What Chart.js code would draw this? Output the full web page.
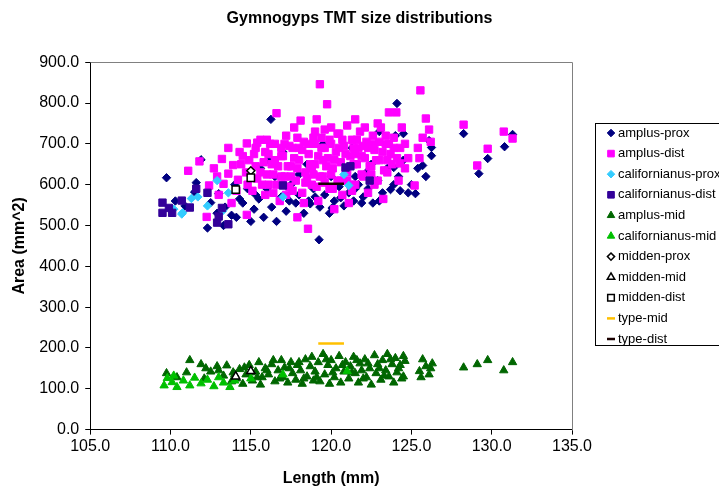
<!DOCTYPE html>
<html>
<head>
<meta charset="utf-8">
<script src="https://cdn.jsdelivr.net/npm/chart.js@4"></script>
<style>
  html, body { margin: 0; padding: 0; background: #fff; overflow: hidden; }
  #chart { display: block; }
</style>
</head>
<body>
<canvas id="chart" width="719" height="488"></canvas>
<script>
// axis ticks
const xTicks = [105, 110, 115, 120, 125, 130, 135];
const yTicks = [0, 100, 200, 300, 400, 500, 600, 700, 800, 900];

// [length mm, area mm^2]
const amplusProx = [
  [109.75,617],[110.3,560],[110.9,548],[111.5,582],[111.6,605],[111.9,661],[112.3,494],[112.5,556],
  [112.9,530],[113.0,578],[113.3,500],[113.4,545],[113.8,525],[114.1,520],[114.3,565],[114.5,555],
  [114.8,590],[115.0,510],[115.2,540],[115.5,565],[115.6,640],[115.8,520],[116.0,590],[116.1,660],
  [116.25,760],[116.3,545],[116.6,510],[116.9,570],[117.0,680],[117.2,535],[117.5,600],[117.8,555],
  [118.0,575],[118.0,625],[118.3,530],[118.5,650],[118.6,560],[118.7,553],[118.9,590],[119.25,465],
  [119.3,545],[119.5,700],[119.6,575],[119.9,530],[120.0,620],[120.06,543],[120.2,560],[120.5,595],
  [120.6,568],[120.8,548],[121.1,580],[121.3,690],[121.4,560],[121.5,590],[121.5,620],[121.7,600],
  [122.0,570],[122.3,590],[122.5,650],[122.6,555],[122.9,610],[123.0,730],[123.2,580],[123.5,640],
  [123.7,588],[123.9,600],[123.9,642],[124.0,720],[124.1,799],[124.2,620],[124.3,585],[124.5,725],
  [124.5,660],[124.8,580],[125.0,600],[125.25,578],[125.4,640],[125.7,647],[125.9,620],[126.1,708],
  [126.25,671],[126.25,691],[128.25,725],[129.2,627],[129.75,664],[130.8,693],[131.3,723],
  [117.4,560],[119.0,570],[121.9,555],[123.0,560],[115.3,575],[114.0,600],[116.5,620],[122.2,630]
];
const amplusDist = [
  [111.1,634],[111.8,657],[112.25,521],[112.4,598],[112.7,640],[113.0,575],
  [113.3,602],[113.6,627],[113.2,663],[113.8,555],[113.9,648],
  [114.2,612],[114.3,680],[114.4,650],[114.1,585],
  [114.75,701],[114.75,526],[114.7,630],[114.9,660],[114.8,600],
  [115.4,703],[115.1,585],[115.3,645],[115.2,675],[115.4,615],
  [115.6,630],[115.9,680],[115.7,600],[115.8,655],[115.9,575],[115.6,710],
  [116.1,600],[116.3,650],[116.2,700],[116.4,625],[116.1,675],[116.4,580],
  [116.6,775],[116.5,700],[116.8,560],[116.9,620],[116.7,645],[116.9,670],[116.6,600],
  [117.0,670],[117.2,720],[117.4,595],[117.3,645],[117.1,620],[117.4,695],[117.2,575],
  [117.5,645],[117.6,690],[117.8,610],[117.9,520],[117.7,665],[117.9,715],[117.6,585],
  [118.0,660],[118.1,757],[118.2,580],[118.3,705],[118.4,630],[118.2,685],[118.4,605],
  [118.56,492],[118.6,675],[118.8,600],[118.9,715],[118.7,650],[118.9,625],[118.6,700],
  [119.0,650],[119.1,760],[119.2,560],[119.3,846],[119.4,690],[119.3,620],[119.1,595],[119.4,715],[119.2,670],
  [119.5,620],[119.6,735],[119.75,797],[119.8,665],[119.9,590],[119.7,645],[119.6,690],[119.9,710],
  [120.0,700],[120.1,640],[120.2,540],[120.3,680],[120.4,610],[120.2,660],[120.4,725],[120.1,590],
  [120.5,725],[120.6,655],[120.7,575],[120.8,695],[120.9,635],[120.6,610],[120.9,675],
  [121.0,630],[121.0,745],[121.1,555],[121.2,670],[121.3,710],[121.4,650],[121.2,600],[121.4,690],
  [121.5,600],[121.6,650],[121.7,690],[121.8,730],[121.9,625],[121.6,710],[121.9,670],
  [122.0,620],[122.1,665],[122.2,705],[122.3,580],[122.4,645],[122.3,690],[122.1,740],
  [122.5,645],[122.6,720],[122.7,685],[122.9,610],[122.8,660],[122.6,700],
  [123.0,660],[123.1,740],[123.25,565],[123.4,700],[123.3,635],[123.2,680],[123.4,720],
  [123.6,777],[123.5,630],[123.7,675],[123.9,715],[123.8,650],[123.6,700],
  [124.06,777],[124.3,652],[124.3,690],[124.4,740],[124.2,610],[124.1,665],
  [124.6,700],[124.8,665],[125.2,598],[125.4,690],[125.56,831],[125.7,715],[125.9,762],
  [126.1,735],[126.2,705],[125.5,665],[128.25,747],[129.1,647],[129.75,688],[130.75,730],[131.3,713],
  [116.0,625],[116.5,660],[117.0,600],[117.5,620],[118.0,690],[118.5,615],[119.0,700],[119.5,660],
  [120.0,625],[120.5,690],[121.0,610],[121.5,675],[122.0,695],[122.5,625],[123.0,705],[123.5,660],
  [118.3,555],[119.6,605],[121.3,585],[122.7,600],[117.1,700],[116.0,710],[115.3,690],[120.0,740],
  [122.9,750],[119.0,730],[117.7,740],[121.5,760],[123.9,690],[124.6,640],[114.5,670],[113.6,690],
  [112.9,620],[118.8,640],[120.7,710],[117.9,640],[116.9,690]
];
const californianusProx = [
  [110.2,540],[110.7,528],[110.75,531],[111.3,566],[111.7,570],[112.3,548],[112.9,610],
  [113.25,536],[113.6,580],[117.0,570],[120.8,625],[121.1,598]
];
const californianusDist = [
  [109.5,556],[109.5,531],[109.9,543],[110.1,531],[110.7,561],[111.2,544],[111.6,590],[112.3,580],
  [112.9,507],[113.0,522],[113.2,543],[113.6,503],[117.0,598],[120.9,642],[121.2,645],[122.4,610]
];
const amplusMid = [
  [109.75,138],[110.4,128],[111.0,140],[111.2,170],[111.9,160],[112.1,125],[112.5,142],[112.9,155],
  [113.3,132],[113.5,157],[113.8,118],[113.9,140],
  [114.1,125],[114.3,148],[114.5,112],[114.7,135],[114.9,158],
  [115.1,120],[115.3,142],[115.5,165],[115.7,128],[115.9,150],[115.6,110],
  [116.1,135],[116.3,160],[116.5,118],[116.7,145],[116.9,170],[116.8,125],
  [117.1,152],[117.3,115],[117.5,165],[117.6,138],[117.8,122],[117.9,158],
  [118.1,145],[118.2,112],[118.4,172],[118.5,130],[118.7,155],[118.9,120],[118.8,178],
  [119.0,142],[119.2,165],[119.3,118],[119.5,185],[119.6,135],[119.8,158],[119.9,112],
  [120.0,170],[120.2,128],[120.3,150],[120.5,180],[120.6,115],[120.8,142],[120.9,165],
  [121.1,125],[121.2,155],[121.4,178],[121.5,138],[121.7,115],[121.8,162],[121.9,145],
  [122.1,172],[122.2,128],[122.4,150],[122.5,110],[122.7,182],[122.8,138],[122.9,160],
  [123.1,122],[123.2,170],[123.4,145],[123.5,185],[123.6,130],[123.8,160],[123.9,115],
  [124.0,175],[124.1,140],[124.3,158],[124.4,125],[124.6,168],[124.5,180],
  [125.5,143],[125.6,128],[125.7,172],[125.9,155],[126.1,135],[126.3,162],[126.2,150],
  [128.25,152],[129.1,160],[129.75,170],[130.75,145],[131.3,165],
  [114.0,135],[114.6,152],[115.0,140],[115.4,128],[116.0,145],[116.4,170],[117.0,128],[117.4,150],
  [118.0,165],[118.3,125],[119.1,128],[119.7,172],[120.1,140],[120.7,158],[121.3,140],[121.6,170],
  [122.0,125],[122.3,162],[123.0,150],[123.3,132],[123.7,172],[124.2,150],[124.5,130],[113.0,145],
  [112.2,150]
];
const californianusMid = [
  [109.6,108],[109.8,126],[110.1,116],[110.2,132],[110.4,104],[110.8,120],[111.2,108],[111.5,127],
  [111.9,113],[112.3,122],[112.7,106],[113.0,128],[113.3,115],[113.7,104],[114.0,120],[115.0,125],
  [117.0,135],[121.0,143]
];
const middenProx = [[115.0,634]];
const middenMid = [[114.06,130],[115.0,143]];
const middenDist = [[114.06,588],[115.0,617]];
const typeMid = [[119.2,211],[120.8,211]];
const typeDist = [[119.2,602],[120.8,602]];

const FONT = 'Arial, "Liberation Sans", sans-serif';
Chart.defaults.font.family = FONT;
Chart.defaults.color = '#000';

function pts(arr) {
  return arr.map(p => ({ x: p[0], y: p[1] }));
}

function marker(label, data, style, fill, stroke, radius, bw) {
  return {
    label: label, data: pts(data),
    pointStyle: style, pointRadius: radius, pointHoverRadius: radius,
    pointBackgroundColor: fill, pointBorderColor: stroke, pointBorderWidth: bw,
    backgroundColor: fill, borderColor: stroke
  };
}

function dash(label, data, color) {
  return {
    label: label, data: pts(data), showLine: true,
    borderColor: color, backgroundColor: color, borderWidth: 2.5,
    pointRadius: 0, pointHoverRadius: 0
  };
}

const datasets = [
  marker('amplus-prox', amplusProx, 'rectRot', '#000080', '#000080', 4.2, 1),
  marker('amplus-dist', amplusDist, 'rect', '#FF00FF', '#FF00FF', 5.2, 1),
  marker('californianus-prox', californianusProx, 'rectRot', '#33CCFF', '#33CCFF', 4.2, 1),
  marker('californianus-dist', californianusDist, 'rect', '#330099', '#330099', 5.2, 1),
  marker('amplus-mid', amplusMid, 'triangle', '#006600', '#006600', 4.8, 1),
  marker('californianus-mid', californianusMid, 'triangle', '#00C000', '#00C000', 4.8, 1),
  marker('midden-prox', middenProx, 'rectRot', '#FFFFFF', '#000000', 4.0, 1.5),
  marker('midden-mid', middenMid, 'triangle', '#FFFFFF', '#000000', 4.8, 1.5),
  marker('midden-dist', middenDist, 'rect', '#FFFFFF', '#000000', 5.2, 1.5),
  dash('type-mid', typeMid, '#FFC000'),
  dash('type-dist', typeDist, '#1a0000')
];
// later series sit on top, like the original
datasets.forEach((ds, i) => { ds.order = datasets.length - i; });

// gray frame on top and right of the plot area
const plotFrame = {
  id: 'plotFrame',
  beforeDatasetsDraw(chart) {
    const a = chart.chartArea, ctx = chart.ctx;
    ctx.save();
    ctx.strokeStyle = '#808080';
    ctx.lineWidth = 1;
    ctx.beginPath();
    ctx.moveTo(Math.round(a.left) + 0.5, Math.round(a.top) + 0.5);
    ctx.lineTo(Math.round(a.right) + 0.5, Math.round(a.top) + 0.5);
    ctx.lineTo(Math.round(a.right) + 0.5, Math.round(a.bottom) + 0.5);
    ctx.stroke();
    ctx.restore();
  }
};

// boxed legend at the right, like the spreadsheet one
const legendBox = {
  id: 'legendBox',
  afterDraw(chart) {
    const ctx = chart.ctx;
    ctx.save();
    ctx.strokeStyle = '#000';
    ctx.lineWidth = 1;
    ctx.strokeRect(595.5, 123.5, 160, 222);
    ctx.font = '13px ' + FONT;
    ctx.textBaseline = 'middle';
    ctx.textAlign = 'left';
    chart.data.datasets.forEach((ds, i) => {
      const y = 133 + i * 20.6;
      if (ds.showLine) {
        ctx.strokeStyle = ds.borderColor;
        ctx.lineWidth = 2.5;
        ctx.beginPath();
        ctx.moveTo(607, y);
        ctx.lineTo(615, y);
        ctx.stroke();
      } else {
        ctx.fillStyle = ds.pointBackgroundColor;
        ctx.strokeStyle = ds.pointBorderColor;
        ctx.lineWidth = ds.pointBorderWidth;
        Chart.helpers.drawPoint(ctx, {
          pointStyle: ds.pointStyle, radius: ds.pointRadius * 0.9, rotation: 0, borderWidth: ds.pointBorderWidth
        }, 611, y);
      }
      ctx.fillStyle = '#000';
      ctx.fillText(ds.label, 618, y);
    });
    ctx.restore();
  }
};

new Chart(document.getElementById('chart'), {
  type: 'scatter',
  data: { datasets: datasets },
  options: {
    responsive: false,
    animation: false,
    devicePixelRatio: 1,
    layout: { padding: 0 },
    plugins: {
      legend: { display: false },
      tooltip: { enabled: false },
      title: {
        display: true,
        text: 'Gymnogyps TMT size distributions',
        color: '#000',
        font: { size: 16, weight: 'bold' },
        padding: { top: 9, bottom: 34 }
      }
    },
    scales: {
      x: {
        type: 'linear',
        min: xTicks[0], max: xTicks[xTicks.length - 1],
        ticks: {
          stepSize: xTicks[1] - xTicks[0],
          callback: v => Number(v).toFixed(1),
          font: { size: 16 }, color: '#000', padding: 2
        },
        grid: { display: true, drawOnChartArea: false, drawTicks: true, tickLength: 5, color: '#000' },
        border: { color: '#000', width: 1 },
        title: {
          display: true, text: 'Length (mm)', color: '#000',
          font: { size: 16, weight: 'bold' }, padding: { top: 11, bottom: 0 }
        }
      },
      y: {
        type: 'linear',
        min: yTicks[0], max: yTicks[yTicks.length - 1],
        ticks: {
          stepSize: yTicks[1] - yTicks[0],
          callback: v => Number(v).toFixed(1),
          font: { size: 16 }, color: '#000', padding: 6
        },
        grid: { display: true, drawOnChartArea: false, drawTicks: true, tickLength: 5, color: '#000' },
        border: { color: '#000', width: 1 },
        title: {
          display: true, text: 'Area (mm^2)', color: '#000',
          font: { size: 16, weight: 'bold' }, padding: { top: 10, bottom: 4 }
        }
      },
      // empty right-hand strip that leaves room for the legend
      side: {
        type: 'linear', position: 'right', display: true,
        grid: { display: false, drawTicks: false },
        border: { display: false },
        ticks: { display: false },
        afterFit: s => { s.width = 147; }
      }
    }
  },
  plugins: [plotFrame, legendBox]
});
</script>
</body>
</html>
